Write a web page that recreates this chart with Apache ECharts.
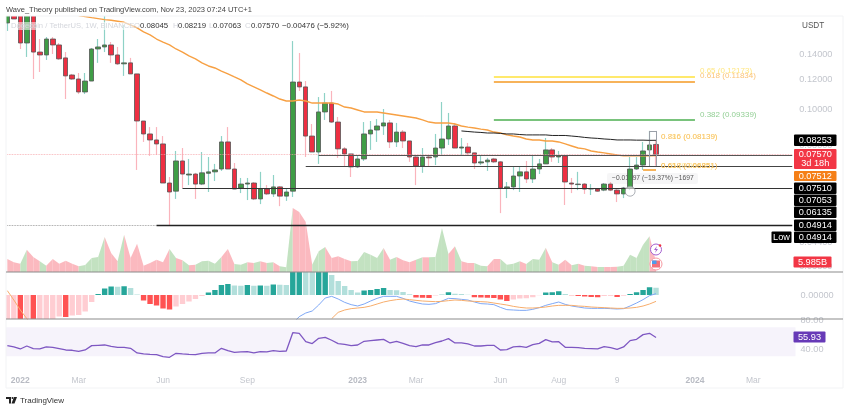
<!DOCTYPE html>
<html>
<head>
<meta charset="utf-8">
<title>DOGE / USDT</title>
<style>
html,body{margin:0;padding:0;background:#fff}
#chart{width:850px;height:410px}
</style>
<script src="https://cdn.jsdelivr.net/npm/echarts@6/dist/echarts.min.js"></script>
</head>
<body>
<div id="chart"></div>
<script>
// weekly candles
const opens = [.1695,.1791,.1813,.1499,.1791,.1418,.1393,.1536,.1481,.1368,
.1232,.1202,.1110,.1187,.1445,.1463,.1481,.1393,.1319,.1327,
.1240,.0929,.0858,.0827,.0807,.0635,.0604,.0727,.0667,.0671,
.0631,.0674,.0680,.0692,.0817,.0692,.0616,.0631,.0635,.0576,
.0612,.0594,.0620,.0586,.0604,.1180,.1145,.0847,.0768,.0982,
.1037,.0923,.0783,.0759,.0701,.0736,.0858,.0879,.0901,.0918,
.0817,.0868,.0822,.0745,.0705,.0745,.0745,.0787,.0832,.0901,
.0787,.0792,.0764,.0718,.0723,.0736,.0723,.0616,.0620,.0663,
.0680,.0651,.0692,.0714,.0778,.0745,.0750,.0635,.0629,.0631,
.0612,.0612,.0608,.0631,.0608,.0594,.0616,.0692,.0709,.0778,.08045]
const closes = [.1813,.1737,.1499,.1835,.1418,.1393,.1536,.1481,.1360,.1225,
.1202,.1110,.1187,.1445,.1463,.1481,.1393,.1319,.1327,.1240,
.0929,.0858,.0827,.0807,.0635,.0601,.0727,.0671,.0671,.0631,
.0676,.0680,.0688,.0817,.0692,.0612,.0631,.0635,.0576,.0612,
.0594,.0620,.0586,.0601,.1180,.1145,.0847,.0768,.0982,.1037,
.0923,.0783,.0759,.0701,.0736,.0858,.0879,.0901,.0918,.0817,
.0868,.0822,.0745,.0705,.0745,.0741,.0787,.0832,.0901,.0787,
.0792,.0764,.0718,.0723,.0731,.0723,.0616,.0620,.0663,.0680,
.0651,.0692,.0714,.0778,.0745,.0750,.0639,.0631,.0631,.0612,
.0614,.0604,.0631,.0608,.0594,.0616,.0692,.0709,.0773,.0802,.0757]
const lows = [.1614,.1737,.1445,.1376,.1202,.1255,.1351,.1401,.1351,.1063,
.1195,.1096,.1096,.1187,.1327,.1418,.1327,.1310,.1225,.1240,
.0688,.0817,.0750,.0754,.0635,.0491,.0576,.0616,.0627,.0576,
.0627,.0601,.0643,.0684,.0692,.0612,.0597,.0572,.0572,.0558,
.0590,.0583,.0551,.0569,.0583,.1117,.0745,.0768,.0714,.0935,
.0918,.0741,.0701,.0659,.0696,.0727,.0778,.0817,.0853,.0787,
.0792,.0787,.0723,.0627,.0676,.0705,.0709,.0750,.0802,.0787,
.0750,.0754,.0692,.0709,.0684,.0718,.0528,.0579,.0608,.0601,
.0635,.0635,.0671,.0714,.0723,.0718,.0555,.0597,.0608,.0594,
.0590,.0602,.0604,.0604,.0565,.0579,.0608,.0688,.0688,.0731,.07063]
const highs = [.1893,.1835,.1893,.1893,.1835,.1536,.1555,.1555,.1499,.1418,
.1240,.1247,.1247,.1454,.1536,.1835,.1508,.1463,.1674,.1368,
.1240,.0929,.0895,.0895,.0847,.0659,.0773,.0787,.0736,.0676,
.0768,.0745,.0714,.0847,.0895,.0718,.0655,.0655,.0639,.0680,
.0627,.0667,.0623,.0616,.1517,.1410,.1187,.0912,.1076,.1103,
.1117,.0952,.0792,.0759,.0754,.0923,.0929,.0940,.1000,.0935,
.0918,.0879,.0822,.0750,.0787,.0754,.0858,.1044,.0976,.0918,
.0837,.0812,.0764,.0750,.0741,.0741,.0727,.0639,.0701,.0701,
.0727,.0750,.0736,.0837,.0787,.0773,.0750,.0655,.0680,.0635,
.0631,.0616,.0635,.0639,.0612,.0620,.0745,.0745,.0817,.0874,.08219]

// orange moving average, off the top of the pane for the first weeks
const ema = [null,null,null,null,null,null,null,null,null,null,null,
.1774,.1762,.1751,.1741,.1730,.1723,.1713,.1702,.1674,.1644,
.1604,.1575,.1536,.1508,.1481,.1445,.1418,.1385,.1360,.1327,
.1302,.1286,.1262,.1240,.1217,.1195,.1166,.1145,.1124,.1103,
.1083,.1063,.1050,.1050,.1057,.1050,.1037,.1037,.1037,.1037,
.1031,.1012,.1006,.0994,.0982,.0982,.0982,.0976,.0970,.0964,
.0958,.0952,.0946,.0935,.0923,.0918,.0918,.0918,.0912,.0901,
.0895,.0890,.0884,.0879,.0868,.0863,.0853,.0847,.0842,.0832,
.0827,.0827,.0822,.0822,.0817,.0807,.0797,.0787,.0783,.0773,
.0768,.0764,.0759,.0754,.0750,.0750,.0750,.0750,.0750,.07512]

// black moving average, weeks 70..100
const maStart = 70
const maValues = [.0874,.0871,.0868,.0866,.0863,.0863,.0861,.0858,.0858,.0855,.0853,
.0853,.0853,.0853,.0850,.0850,.0850,.0847,.0844,.0840,.0837,
.0835,.0832,.0830,.0827,.0827,.0827,.0826,.0826,.0825,.08253]

// volume in billions
const volumes = [7.8,5.8,5,13.4,9,6.4,3.8,7.8,5,6.8,5,3.4,4.2,8.4,9,21,11.4,6.4,22.4,8.4,
17,3.8,5.4,7.4,5.8,13.8,8.4,7,4,4.4,6.4,6.8,5,9,13.8,4.8,4.4,5.8,5.4,6.4,
5.4,5.8,3.4,2.8,38.4,36,30,4.4,12.4,15,8.4,9.4,7.8,6.4,6.6,12,10.4,8.4,14.4,7.4,
9,7,5.8,7.4,8.8,8.8,9,26.4,10.8,15.4,6.4,5.4,5.4,3.8,3.4,7.8,7.8,4.4,5,6.4,
4.8,7.8,7.4,14.6,5.8,4.4,7.4,4,5,3.8,3.4,3,3,3,3.2,3.8,10.4,8.4,16.4,21.4,5.985]

// MACD pane
const macdHist = [-.0060,-.0053,-.0057,-.0052,-.0055,-.0052,-.0050,-.0048,-.0043,-.0044,
-.0041,-.0040,-.0033,-.0014,.0002,.0013,.0017,.00165,.00175,.0014,
.0001,-.0011,-.0018,-.0021,-.0027,-.0029,-.0023,-.0018,-.0013,-.0008,
-.0002,.0005,.0010,.0020,.0022,.0019,.00185,.0020,.00185,.0019,
.00185,.0021,.00205,.0020,.0053,.0057,.0050,.0047,.0048,.0049,
.0040,.0028,.0018,.0010,.0005,.0009,.0010,.0012,.0014,.0010,
.00095,.0006,.00015,-.0005,-.00055,-.0006,-.0001,.00005,.00055,.00025,
.0002,.00005,-.00045,-.0005,-.00055,-.0006,-.0009,-.0012,-.0009,-.0007,
-.00065,-.00045,-.00005,.0005,.00055,.00075,.0002,-.00005,-.0002,-.0003,
-.0004,-.00045,-.0002,-.00018,-.0004,-.00015,.0002,.00055,.0010,.00155,.00145]
const macdLine = Array(44).fill(null).concat([-.00567,-.00433,-.0036,-.0032,-.002,-.0006,
-.00027,-.0008,-.00147,-.00193,-.0022,-.0018,-.0012,-.00067,-.00027,-.00027,
-.00027,-.00067,-.0012,-.00153,-.0018,-.00187,-.00173,-.0012,-.00067,-.00073,
-.00087,-.001,-.0014,-.00173,-.0018,-.00193,-.00247,-.00293,-.003,-.00307,
-.00307,-.00287,-.00253,-.00207,-.00173,-.0014,-.00187,-.0022,-.0024,-.0026,
-.00267,-.00267,-.00267,-.00273,-.0028,-.00273,-.0022,-.0016,-.00093,-.00013,.00027])
const signalLine = [.00087,-.001,-.003,-.00473,-.00647].concat(Array(45).fill(null),[
-.00473,-.00347,-.003,-.00273,-.0026,-.00247,-.0022,-.0018,-.0014,-.00113,
-.00093,-.0008,-.00093,-.00107,-.0012,-.00127,-.00133,-.00127,-.00113,-.001,
-.00107,-.0012,-.00127,-.00133,-.0014,-.0016,-.0018,-.002,-.00227,-.00247,
-.0026,-.0026,-.00253,-.0024,-.0022,-.00207,-.00207,-.00207,-.0022,-.00227,
-.0024,-.00247,-.00253,-.0026,-.00267,-.00267,-.0026,-.00247,-.0022,-.0018,-.00127])

// RSI pane
const rsi = [44.6,42.8,40,44.1,40.5,40,42.8,42.3,40.5,38.6,38.2,36.8,38.6,44.6,45.1,45.5,43.7,42.3,42.3,40.9,
34.5,33.1,32.6,32.2,29.4,28.5,34,33.1,32.6,32.2,34,34.5,34.5,40.9,37.7,35.4,35.9,36.3,34.5,36.3,
35.9,37.7,36.8,37.2,62.5,61.6,50.1,47.4,54.7,56.1,52,47.4,46.4,44.6,45.5,50.6,51.5,52.4,53.3,48.3,
50.6,47.8,44.6,43.2,45.5,45.5,48.7,51,54.3,48.3,48.3,46.9,44.1,44.1,45.1,45.1,38.6,39.1,42.8,43.7,
42.3,46,47.8,52.9,49.7,50.1,42.3,42.3,41.8,40.9,40.5,40,43.2,41.8,39.5,42.8,51.5,53.3,59.8,61.6,55.93]

const priceTicks = [0.14, 0.12, 0.10, 0.08, 0.044, 0.038]
const timeTicks = [[2,'2022'],[11,'Mar'],[24,'Jun'],[37,'Sep'],[54,'2023'],[63,'Mar'],[76,'Jun'],[85,'Aug'],[94,'9'],[106,'2024'],[115,'Mar']]
const slotCount = 122

const slots = Array.from({length: slotCount}, (_, i) => {
	const t = timeTicks.find(d => d[0] === i)
	return t ? t[1] : ''
})
const weeks = opens.map((_, i) => i)
const priceMin = 0.03679, priceMax = 0.1769
const gridX = {left: 4.1, width: 791.4}
const tickGrey = '#c3c6cd'
const FONT = '"Liberation Sans", Arial, sans-serif'

const level = (value, from, to, color, width, type) => [
	{xAxis: from, yAxis: value, lineStyle: {color: color, width: width, type: type || 'solid'}},
	{xAxis: to, yAxis: value}
]
const segment = (x1, y1, x2, y2, color) => [
	{xAxis: x1, yAxis: y1, lineStyle: {color: color, width: 1, type: 'solid'}},
	{xAxis: x2, yAxis: y2}
]

const option = {
	animation: false,
	backgroundColor: '#fff',
	grid: [
		{left: gridX.left, width: gridX.width, top: 16, height: 256},
		{left: gridX.left, width: gridX.width, top: 205, height: 67},
		{left: gridX.left, width: gridX.width, top: 272, height: 47},
		{left: gridX.left, width: gridX.width, top: 319, height: 53}
	],
	xAxis: [0, 1, 2].map(g => ({
		type: 'category', gridIndex: g, data: slots,
		axisLine: {show: false}, axisTick: {show: false}, axisLabel: {show: false}, splitLine: {show: false}
	})).concat([{
		type: 'category', gridIndex: 3, data: slots,
		axisLine: {show: false}, axisTick: {show: false}, splitLine: {show: false},
		axisLabel: {
			interval: (i, v) => v !== '', margin: 4, hideOverlap: false,
			color: tickGrey, fontSize: 8.5, fontFamily: FONT,
			formatter: v => /^20/.test(v) ? '{y|' + v + '}' : v,
			rich: {y: {color: '#b8bbc3', fontWeight: 'bold', fontSize: 8.5, fontFamily: FONT}}
		}
	}]),
	yAxis: [
		{type: 'log', logBase: 10, gridIndex: 0, min: priceMin, max: priceMax, position: 'right',
			axisLine: {show: false}, axisTick: {show: false}, axisLabel: {show: false}, splitLine: {show: false}},
		{type: 'value', gridIndex: 1, min: 0, max: 40.2, show: false},
		{type: 'value', gridIndex: 2, min: -0.0048, max: 0.0046, position: 'right',
			axisLine: {show: false}, axisTick: {show: false}, splitLine: {show: false},
			axisLabel: {customValues: [0], formatter: () => '0.00000', color: tickGrey, fontSize: 9.2, fontFamily: FONT, margin: 5}},
		{type: 'value', gridIndex: 3, min: 8.2, max: 81.38, position: 'right',
			axisLine: {show: false}, axisTick: {show: false}, splitLine: {show: false},
			axisLabel: {customValues: [40, 80], formatter: v => v.toFixed(2), color: tickGrey, fontSize: 9.2, fontFamily: FONT, margin: 5}}
	],
	series: [
		{ // volume area, each stretch coloured by the week it ends on
			type: 'custom', xAxisIndex: 1, yAxisIndex: 1, z: 1, silent: true,
			data: weeks.slice(1).map(i => [i, volumes[i - 1], volumes[i], closes[i] >= opens[i] ? 1 : 0]),
			encode: {x: 0, y: 2},
			renderItem: (params, api) => {
				const i = api.value(0)
				const pts = [api.coord([i - 1, api.value(1)]), api.coord([i, api.value(2)]), api.coord([i, 0]), api.coord([i - 1, 0])]
				return {type: 'polygon', shape: {points: pts}, style: {fill: api.value(3) ? '#c3e2c1' : '#fbb9bf'}}
			}
		},
		{ // wicks
			type: 'candlestick', xAxisIndex: 0, yAxisIndex: 0, z: 2, barWidth: 1.2, silent: true,
			data: weeks.map(i => [opens[i], closes[i], lows[i], highs[i]]),
			itemStyle: {color: '#8ed2c6', color0: '#fab4bc', borderColor: '#8ed2c6', borderColor0: '#fab4bc', borderWidth: 1.2}
		},
		{ // bodies
			type: 'candlestick', xAxisIndex: 0, yAxisIndex: 0, z: 3, barWidth: 5, silent: true,
			data: weeks.map(i => [opens[i], closes[i], Math.min(opens[i], closes[i]), Math.max(opens[i], closes[i])]),
			itemStyle: {color: '#3f9d46', color0: '#ee2f42', borderColor: '#555', borderColor0: '#555', borderWidth: 0.8}
		},
		{
			type: 'line', xAxisIndex: 0, yAxisIndex: 0, z: 4, data: ema, showSymbol: false, silent: true,
			lineStyle: {color: '#f7a043', width: 1.4}
		},
		{
			type: 'line', xAxisIndex: 0, yAxisIndex: 0, z: 5, showSymbol: false, silent: true,
			data: weeks.map(i => i < maStart ? null : maValues[i - maStart]),
			lineStyle: {color: '#222', width: 1}
		},
		{ // drawn levels, fib lines and the price scale labels
			type: 'line', xAxisIndex: 0, yAxisIndex: 0, z: 6, data: [], silent: true, clip: false,
			markLine: {
				silent: true, symbol: 'none', animation: false, label: {show: false},
				data: [
					level(0.0757, 0, 121, '#f6a3a8', 0.8, 'dotted'),
					level(0.04914, 0, 23, '#888', 0.8, 'dotted'),
					level(0.04914, 23.2, 121, '#222', 1.4),
					level(0.06135, 27, 121, '#333', 1.2),
					level(0.07053, 46, 121, '#444', 1.2),
					level(0.07510, 48, 121, '#555', 1.2),
					level(0.12173, 75, 106.2, '#ffe23b', 1.5),
					level(0.11834, 75, 106.2, '#f59a23', 1.5),
					level(0.09339, 75, 106.2, '#4caf50', 1.5),
					level(0.0688, 98, 100.3, '#f59a23', 1.5),
					segment(99, 0.0874, 99, 0.0705, '#9aa0a8'),
					segment(99, 0.0874, 99.55, 0.0874, '#9aa0a8'),
					segment(99.55, 0.0874, 99.55, 0.0705, '#9aa0a8')
				].concat(priceTicks.map(v => [
					{xAxis: 120, yAxis: v, lineStyle: {color: 'rgba(0,0,0,0)', opacity: 1},
						label: {show: true, opacity: 1, position: 'end', formatter: v.toFixed(5), color: tickGrey, fontSize: 9.2, fontFamily: FONT, distance: 7}},
					{xAxis: 121, yAxis: v}
				]))
			}
		},
		{ // low marker circle
			type: 'scatter', xAxisIndex: 0, yAxisIndex: 0, z: 7, silent: true, symbolSize: 10,
			data: [[96, 0.0604]],
			itemStyle: {color: 'rgba(255,255,255,.75)', borderColor: '#8a8f98', borderWidth: 0.9}
		},
		{
			type: 'bar', xAxisIndex: 2, yAxisIndex: 2, z: 2, barWidth: 5.4, silent: true,
			data: macdHist.map((v, i) => {
				const prev = i ? macdHist[i - 1] : v
				const color = v >= 0 ? (v > prev ? '#26a69a' : '#b2dfdb') : (v < prev ? '#ff5252' : '#ffcdd2')
				return {value: v, itemStyle: {color: color}}
			})
		},
		{type: 'line', xAxisIndex: 2, yAxisIndex: 2, z: 3, data: macdLine, showSymbol: false, silent: true, lineStyle: {color: '#7fa8f5', width: 1}},
		{type: 'line', xAxisIndex: 2, yAxisIndex: 2, z: 3, data: signalLine, showSymbol: false, silent: true, lineStyle: {color: '#f7ad6c', width: 1}},
		{
			type: 'line', xAxisIndex: 3, yAxisIndex: 3, z: 3, data: rsi, showSymbol: false, silent: true,
			lineStyle: {color: '#7e57c2', width: 1.3},
			markArea: {silent: true, itemStyle: {color: '#f6f3fb'}, data: [[{yAxis: 70}, {yAxis: 30}]]}
		}
	],
	graphic: {elements: buildOverlay()}
}

function label(x, y, text, color, size, weight, bg) {
	return {type: 'text', z: 30, x: x, y: y, style: {
		text: text, fill: color, verticalAlign: 'middle', align: 'left',
		font: (weight || 'normal') + ' ' + (size || 9) + 'px ' + FONT,
		backgroundColor: bg
	}}
}
function tag(x, y, w, h, bg, text, color) {
	return [
		{type: 'rect', z: 29, shape: {x: x, y: y, width: w, height: h, r: 1}, style: {fill: bg}},
		label(x + w / 2, y + h / 2, text, color || '#fff', 9.2)
	].map((d, i) => { if (i) d.style.align = 'center'; return d })
}
function hline(y) {
	return {type: 'line', z: 28, shape: {x1: 6, y1: y, x2: 843, y2: y}, style: {stroke: '#8c8c8c', lineWidth: 1.2}}
}

function buildOverlay() {
	const dim = '#d4d6dc', dark = '#333'
	const els = [
		// page margin above and left of the chart frame
		{type: 'rect', z: 27, shape: {x: 0, y: 0, width: 850, height: 16}, style: {fill: '#fff'}},
		{type: 'rect', z: 27, shape: {x: 0, y: 0, width: 6, height: 410}, style: {fill: '#fff'}},
		{type: 'rect', z: 28, shape: {x: 6, y: 16, width: 837, height: 372}, style: {fill: 'none', stroke: '#f2f3f5', lineWidth: 1}},
		hline(272), hline(319),
		label(6, 9.5, 'Wave_Theory published on TradingView.com, Nov 23, 2023 07:24 UTC+1', '#444', 7.5),
		label(11, 26, 'Dogecoin / TetherUS, 1W, BINANCE', dim, 7.6, 'normal', 'rgba(255,255,255,.55)'),
		label(134, 26, 'O', dim, 7.8), label(140, 26, '0.08045', dark, 7.8),
		label(173, 26, 'H', dim, 7.8), label(178, 26, '0.08219', dark, 7.8),
		label(209, 26, 'L', dim, 7.8), label(213, 26, '0.07063', dark, 7.8),
		label(245, 26, 'C', dim, 7.8), label(251, 26, '0.07570', dark, 7.8),
		label(282, 26, '−0.00476 (−5.92%)', dark, 7.8),
		label(802, 26, 'USDT', '#555', 8.2),
		label(700, 71, '0.65 (0.12173)', '#ffe680', 8),
		label(700, 76, '0.618 (0.11834)', '#fbc478', 8),
		label(700, 114.5, '0.382 (0.09339)', '#93cf95', 8),
		label(661, 137, '0.786 (0.08139)', '#fde79a', 8),
		label(661, 137, '0.816 (0.08139)', '#f9c56f', 8),
		label(661, 166, '0.65 (0.06935)', '#fde79a', 8),
		label(661, 166, '0.618 (0.06851)', '#f6b84f', 8),
		{type: 'rect', z: 1, shape: {x: 607, y: 173, width: 91, height: 11, r: 2}, style: {fill: 'rgba(245,245,246,.9)'}},
		{type: 'text', z: 1, x: 612, y: 178.5, style: {text: '−0.01597 (−19.37%) −1697', fill: '#555', verticalAlign: 'middle', font: '6.7px ' + FONT}},
		// event icons on the volume edge
		{type: 'circle', z: 20, shape: {cx: 656, cy: 249.5, r: 5.5}, style: {fill: '#fff', stroke: '#a55fd0', lineWidth: 1}},
		{type: 'polygon', z: 21, shape: {points: [[657, 246], [654, 250], [656, 250], [655, 253], [658, 249], [656, 249]]}, style: {fill: '#a55fd0'}},
		{type: 'circle', z: 21, shape: {cx: 660, cy: 245.5, r: 1.3}, style: {fill: '#ef3340'}},
		{type: 'circle', z: 20, shape: {cx: 656, cy: 264, r: 6}, style: {fill: '#fff', stroke: '#f79aa2', lineWidth: 1}},
		{type: 'rect', z: 21, shape: {x: 652, y: 260.5, width: 8, height: 7}, style: {fill: '#f3707b'}},
		{type: 'rect', z: 22, shape: {x: 652, y: 260.5, width: 4.5, height: 3.5}, style: {fill: '#4f9bea'}},
		// footer logo
		{type: 'polygon', z: 20, shape: {points: [[6, 397], [11, 397], [11, 403.5], [9, 403.5], [9, 399], [6, 399]]}, style: {fill: '#222'}},
		{type: 'circle', z: 20, shape: {cx: 12.5, cy: 398, r: 1}, style: {fill: '#222'}},
		{type: 'polygon', z: 20, shape: {points: [[14, 397], [17, 397], [14.5, 403.5], [11.5, 403.5]]}, style: {fill: '#222'}},
		label(20, 400.5, 'TradingView', '#333', 8)
	]
	return els.concat(
		tag(794, 134.5, 42.5, 11.5, '#000', '0.08253'),
		tag(794, 149, 42.5, 20, '#f23645', '0.07570\n3d 18h'),
		tag(794, 171, 42.5, 10, '#f57f17', '0.07512'),
		tag(794, 182.5, 42.5, 11.5, '#000', '0.07510'),
		tag(794, 194.5, 42.5, 11.5, '#000', '0.07053'),
		tag(794, 206.5, 42.5, 11.5, '#000', '0.06135'),
		tag(794, 219.5, 42.5, 11.5, '#000', '0.04914'),
		tag(794, 231.5, 42.5, 11.5, '#000', '0.04914'),
		tag(771.5, 231.5, 20, 11.5, '#000', 'Low'),
		tag(793.5, 256.5, 38, 11, '#f23645', '5.985B'),
		tag(793.5, 331.5, 32, 11, '#673ab7', '55.93')
	)
}

const chart = echarts.init(document.getElementById('chart'), null, {renderer: 'canvas'})
chart.setOption(option)
</script>
</body>
</html>
